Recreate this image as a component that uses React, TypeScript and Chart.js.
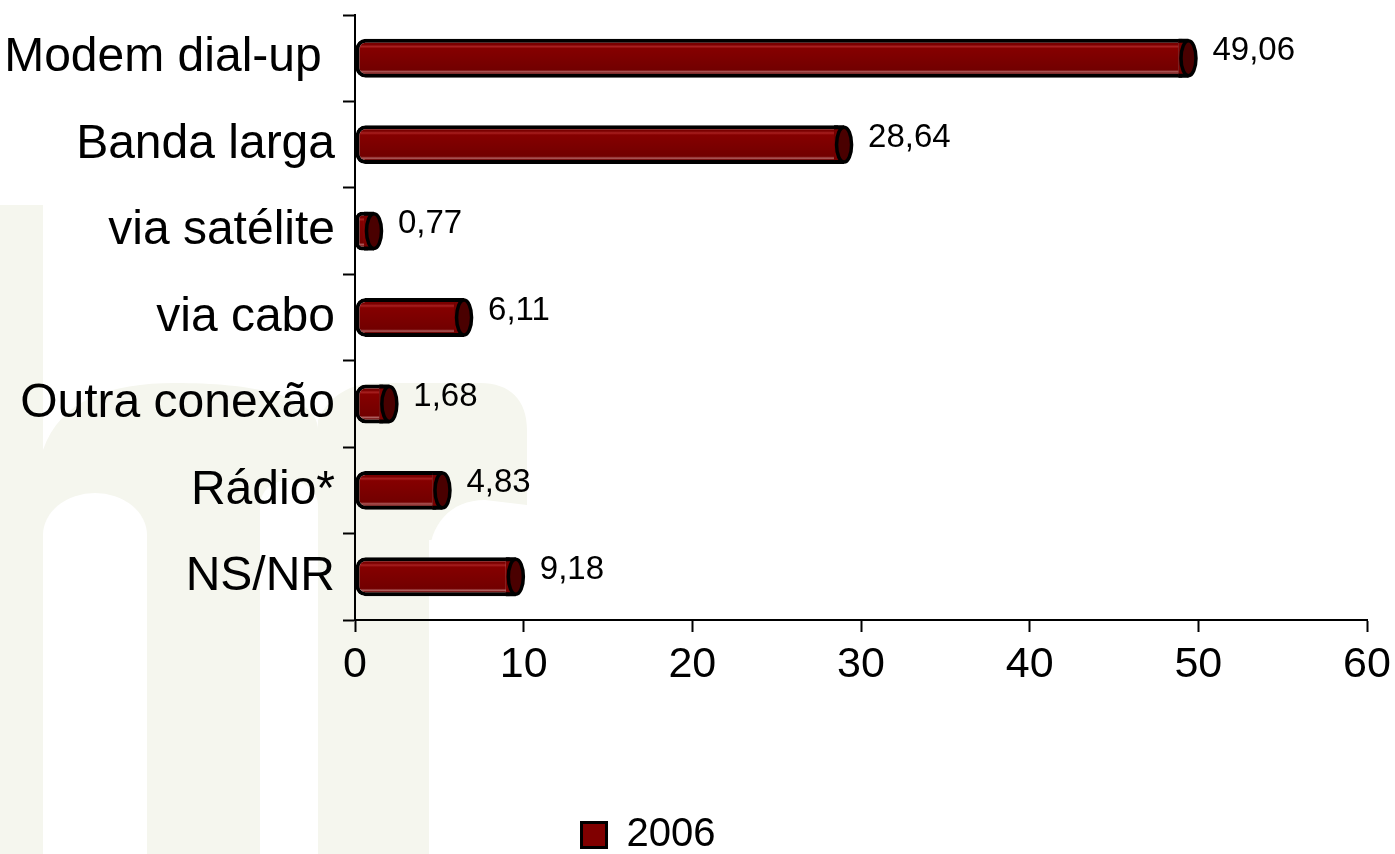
import React, { useEffect, useRef } from 'react';
import { Chart, registerables } from 'chart.js';

Chart.register(...registerables);

const categories = ['Modem dial-up ', 'Banda larga', 'via satélite', 'via cabo', 'Outra conexão', 'Rádio*', 'NS/NR'];
const values2006 = [49.06, 28.64, 0.77, 6.11, 1.68, 4.83, 9.18];
const seriesLabel = '2006';
const xTicks = [0, 10, 20, 30, 40, 50, 60];

const FONT = "'Liberation Sans', Arial, Helvetica, sans-serif";
const BEIGE = '#f5f6ee';
const BAR_PCT = 0.45;

const watermarkPlugin = {
  id: 'watermark',
  beforeDraw(chart: any) {
    const ctx = chart.ctx as CanvasRenderingContext2D;
    ctx.save();
    ctx.fillStyle = BEIGE;
    // left stem
    ctx.fillRect(0, 205, 43, 649);
    // n arch and right stem
    ctx.beginPath();
    ctx.moveTo(43, 854);
    ctx.lineTo(43, 450);
    ctx.bezierCurveTo(60, 400, 110, 383, 175, 383);
    ctx.bezierCurveTo(250, 383, 318, 395, 318, 430);
    ctx.lineTo(318, 854);
    ctx.closePath();
    ctx.fill();
    // r
    ctx.beginPath();
    ctx.moveTo(318, 854);
    ctx.lineTo(318, 420);
    ctx.bezierCurveTo(330, 395, 350, 383, 380, 383);
    ctx.lineTo(480, 383);
    ctx.bezierCurveTo(510, 383, 527, 400, 527, 430);
    ctx.lineTo(527, 540);
    ctx.lineTo(429, 540);
    ctx.lineTo(429, 854);
    ctx.closePath();
    ctx.fill();
    // cut-outs
    ctx.fillStyle = '#ffffff';
    ctx.beginPath();
    ctx.moveTo(43, 854);
    ctx.lineTo(43, 535);
    ctx.ellipse(95, 535, 52, 42, 0, Math.PI, 2 * Math.PI);
    ctx.lineTo(147, 854);
    ctx.closePath();
    ctx.fill();
    ctx.beginPath();
    ctx.moveTo(260, 854);
    ctx.lineTo(260, 505);
    ctx.ellipse(289, 505, 29, 25, 0, Math.PI, 2 * Math.PI);
    ctx.lineTo(318, 854);
    ctx.closePath();
    ctx.fill();
    ctx.beginPath();
    ctx.moveTo(429, 560);
    ctx.bezierCurveTo(429, 525, 450, 500, 485, 500);
    ctx.lineTo(527, 505);
    ctx.lineTo(540, 505);
    ctx.lineTo(540, 854);
    ctx.lineTo(429, 854);
    ctx.closePath();
    ctx.fill();
    ctx.restore();
  },
};

const barDecorPlugin = {
  id: 'barDecor',
  afterDatasetsDraw(chart: any) {
    const ctx = chart.ctx as CanvasRenderingContext2D;
    const meta = chart.getDatasetMeta(0);
    ctx.save();
    meta.data.forEach((el: any, i: number) => {
      const { x, y, height } = el.getProps(['x', 'y', 'height'], true);
      const half = height / 2 - 2;
      // extension of the body toward the cap
      ctx.fillStyle = '#7a0000';
      ctx.fillRect(x - 4, y - half, 10, half * 2);
      ctx.strokeStyle = '#000';
      ctx.lineWidth = 4;
      ctx.beginPath();
      ctx.moveTo(x - 4, y - half);
      ctx.lineTo(x + 6, y - half);
      ctx.moveTo(x - 4, y + half);
      ctx.lineTo(x + 6, y + half);
      ctx.stroke();
      // end cap
      ctx.beginPath();
      ctx.ellipse(x + 6, y, 7.5, half, 0, 0, Math.PI * 2);
      ctx.fillStyle = '#4a0000';
      ctx.fill();
      ctx.lineWidth = 3.5;
      ctx.stroke();
      // value label
      ctx.fillStyle = '#000';
      ctx.font = `33px ${FONT}`;
      ctx.textAlign = 'left';
      ctx.textBaseline = 'middle';
      ctx.fillText(values2006[i].toFixed(2).replace('.', ','), x + 30, y - 7);
    });
    ctx.restore();
  },
};

const legendShiftPlugin = {
  id: 'legendShift',
  afterLayout(chart: any) {
    const lg = chart.legend;
    if (!lg) return;
    lg.left -= 35;
    lg.right -= 35;
    lg.top += 11;
    lg.bottom += 11;
  },
};

export default function App() {
  const ref = useRef<HTMLCanvasElement>(null);

  useEffect(() => {
    const canvas = ref.current;
    if (!canvas) return;
    const chart = new Chart(canvas, {
      type: 'bar',
      data: {
        labels: categories,
        datasets: [
          {
            label: seriesLabel,
            data: values2006,
            backgroundColor: (c: any) => {
              const ys = c.chart.scales?.y;
              if (!ys || c.dataIndex === undefined) return '#800000';
              const cy = ys.getPixelForValue(c.dataIndex);
              const h = (ys.height / categories.length) * BAR_PCT;
              const g = c.chart.ctx.createLinearGradient(0, cy - h / 2, 0, cy + h / 2);
              g.addColorStop(0, '#7a0000');
              g.addColorStop(0.15, '#7a0000');
              g.addColorStop(0.2, '#a82020');
              g.addColorStop(0.25, '#850000');
              g.addColorStop(0.8, '#720000');
              g.addColorStop(0.85, '#b06060');
              g.addColorStop(0.89, '#6a0000');
              g.addColorStop(1, '#6a0000');
              return g;
            },
            borderColor: '#000000',
            borderWidth: 4,
            borderSkipped: false,
            borderRadius: { topLeft: 10, bottomLeft: 10, topRight: 0, bottomRight: 0 },
            barPercentage: BAR_PCT,
            categoryPercentage: 1,
          } as any,
        ],
      },
      options: {
        indexAxis: 'y',
        responsive: false,
        animation: false,
        events: [],
        layout: { padding: { top: 15, right: 28, bottom: 0, left: 0 } },
        scales: {
          y: {
            type: 'category',
            grid: {
              display: true,
              drawOnChartArea: false,
              drawTicks: true,
              tickLength: 12,
              tickWidth: 2,
              tickColor: '#000',
              offset: true,
            },
            border: { display: true, color: '#000', width: 2 },
            ticks: { color: '#000', font: { size: 48, family: FONT }, padding: 8, autoSkip: false },
            afterFit: (s: any) => {
              s.width = 355;
              s.paddingTop = 0;
              s.paddingBottom = 0;
            },
          },
          x: {
            type: 'linear',
            min: 0,
            max: 60,
            afterBuildTicks: (s: any) => {
              s.ticks = xTicks.map((v) => ({ value: v }));
            },
            ticks: { color: '#000', font: { size: 43, family: FONT }, padding: 7, maxRotation: 0 },
            grid: {
              drawOnChartArea: false,
              drawTicks: true,
              tickLength: 12,
              tickWidth: 2,
              tickColor: '#000',
            },
            border: { display: true, color: '#000', width: 2 },
            afterFit: (s: any) => {
              s.height = 174;
              s.paddingLeft = 0;
              s.paddingRight = 0;
            },
          },
        },
        plugins: {
          title: { display: false },
          tooltip: { enabled: false },
          legend: {
            display: true,
            position: 'bottom',
            labels: {
              boxWidth: 25,
              boxHeight: 25,
              padding: 10,
              color: '#000',
              font: { size: 40, family: FONT },
              generateLabels: () => [
                {
                  text: seriesLabel,
                  fillStyle: '#800000',
                  strokeStyle: '#000000',
                  lineWidth: 3,
                  hidden: false,
                  datasetIndex: 0,
                  fontColor: '#000',
                } as any,
              ],
            },
          },
        },
      },
      plugins: [watermarkPlugin, barDecorPlugin, legendShiftPlugin],
    } as any);
    return () => chart.destroy();
  }, []);

  return (
    <div style={{ position: 'fixed', left: 0, top: 0, width: 1395, height: 854, background: '#ffffff' }}>
      <canvas ref={ref} width={1395} height={854} style={{ display: 'block' }} />
    </div>
  );
}
